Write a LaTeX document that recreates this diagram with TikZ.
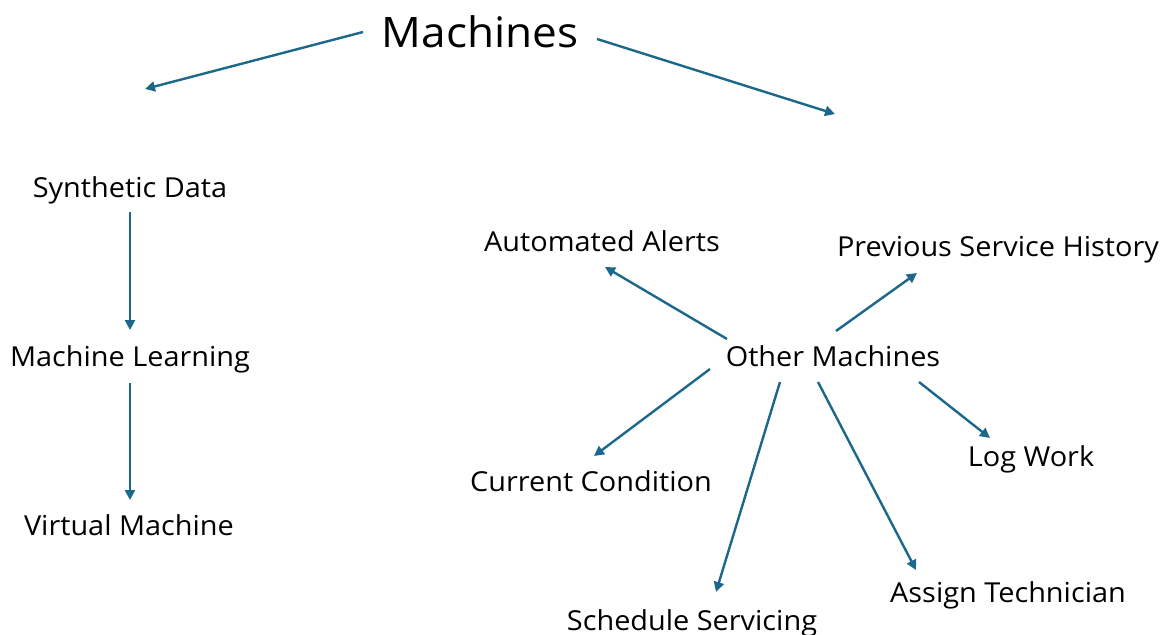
\documentclass[tikz,border=0pt]{standalone}
\usepackage{fontspec}
\setmainfont[Ligatures=NoCommon, FakeStretch=1.05]{Open Sans}
\usetikzlibrary{arrows.meta}
\definecolor{linkblue}{RGB}{28,104,138}
\tikzset{
  lbl/.style={anchor=base, inner sep=0pt, font=\fontsize{27.5}{32}\selectfont},
  title/.style={anchor=base, inner sep=0pt, font=\fontsize{42}{48}\selectfont},
  link/.style={draw=linkblue, line width=2.4pt, -{Triangle[length=10pt,width=10pt]}}
}
\begin{document}
\begin{tikzpicture}[x=1pt,y=-1pt]
\useasboundingbox[fill=white] (0,0) rectangle (1171,635);
% labels
\node[title] (machines) at (480,47) {Machines};
\node[lbl] (synth) at (130,197) {Synthetic Data};
\node[lbl] (ml) at (130,366) {Machine Learning};
\node[lbl] (vm) at (129,535) {Virtual Machine};
\node[lbl] (alerts) at (602,251) {Automated Alerts};
\node[lbl] (history) at (998,256) {Previous Service History};
\node[lbl] (other) at (833,366) {Other Machines};
\node[lbl] (cond) at (591,491) {Current Condition};
\node[lbl] (log) at (1031,466) {Log Work};
\node[lbl] (sched) at (692,630) {Schedule Servicing};
\node[lbl] (assign) at (1008,602) {Assign Technician};
% arrow end points
\coordinate (mL) at (363,32);
\coordinate (mLend) at (145,89);
\coordinate (mR) at (597,39);
\coordinate (mRend) at (835,114);
\coordinate (sA) at (130,212);
\coordinate (mlA) at (130,330);
\coordinate (mlB) at (130,383);
\coordinate (vmA) at (130,500);
\coordinate (oA) at (727,339);
\coordinate (alA) at (605,267);
\coordinate (oB) at (836,331);
\coordinate (hiA) at (917,273);
\coordinate (oC) at (710,369);
\coordinate (coA) at (594,456);
\coordinate (oD) at (780,382);
\coordinate (scA) at (716,592);
\coordinate (oE) at (818,382);
\coordinate (asA) at (916,570);
\coordinate (oF) at (919,382);
\coordinate (lgA) at (990,438);
% connectors
\draw[link] (mL) -- (mLend);
\draw[link] (mR) -- (mRend);
\draw[link] (sA) -- (mlA);
\draw[link] (mlB) -- (vmA);
\draw[link] (oA) -- (alA);
\draw[link] (oB) -- (hiA);
\draw[link] (oC) -- (coA);
\draw[link] (oD) -- (scA);
\draw[link] (oE) -- (asA);
\draw[link] (oF) -- (lgA);
\end{tikzpicture}
\end{document}
